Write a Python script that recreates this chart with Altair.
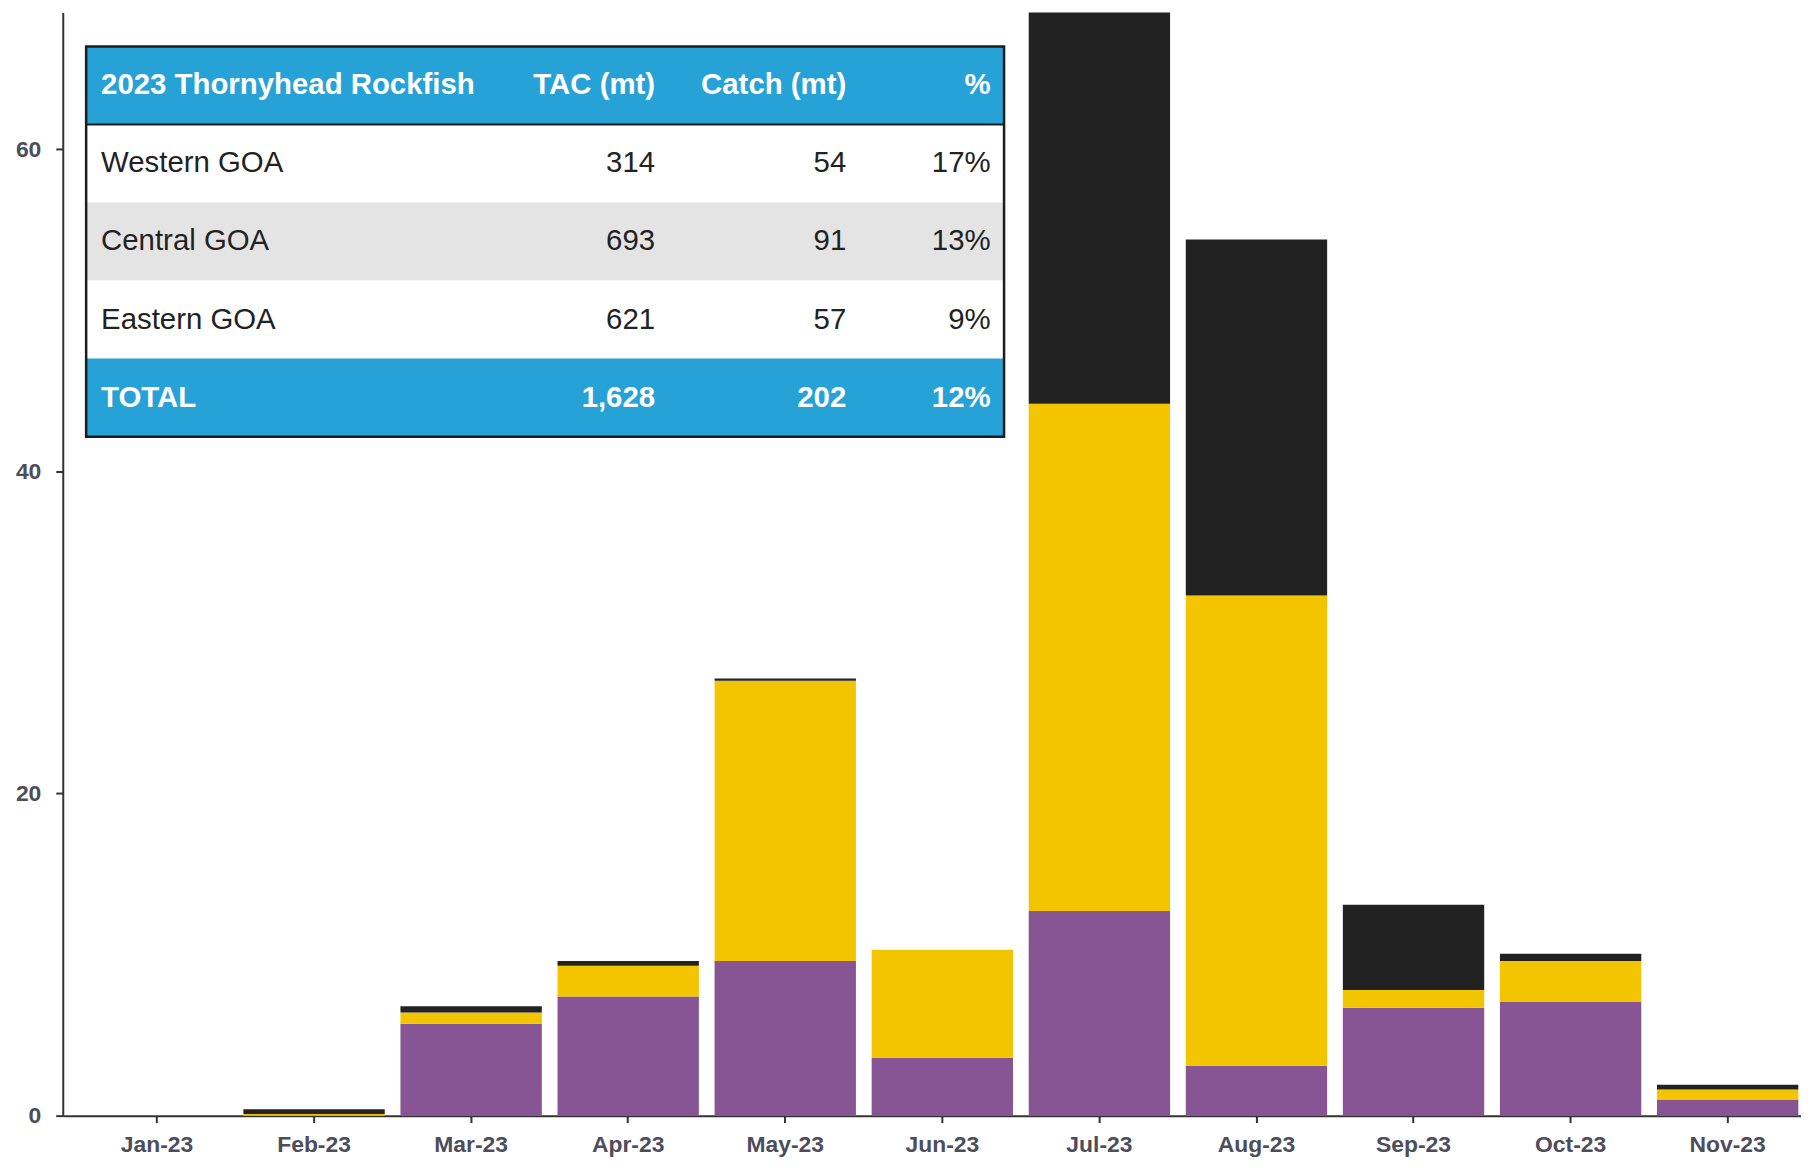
import altair as alt
import pandas as pd

# ---------------- data ----------------
months = ["Jan-23", "Feb-23", "Mar-23", "Apr-23", "May-23", "Jun-23",
          "Jul-23", "Aug-23", "Sep-23", "Oct-23", "Nov-23"]
eastern = [0, 0, 5.7, 7.4, 9.6, 3.6, 12.7, 3.1, 6.7, 7.05, 1.0]
central = [0, 0.1, 0.7, 1.9, 17.4, 6.7, 31.5, 29.2, 1.1, 2.55, 0.62]
western = [0, 0.3, 0.4, 0.3, 0.15, 0, 24.3, 22.1, 5.3, 0.45, 0.3]

series_names = ["Eastern GOA", "Central GOA", "Western GOA"]
series_colors = ["#875593", "#F2C500", "#222222"]

table_header = ["2023 Thornyhead Rockfish", "TAC (mt)", "Catch (mt)", "%"]
table_regions = ["Western GOA", "Central GOA", "Eastern GOA"]
table_tac = ["314", "693", "621"]
table_catch = ["54", "91", "57"]
table_pct = ["17%", "13%", "9%"]
table_total = ["TOTAL", "1,628", "202", "12%"]

# ---------------- tables ----------------
rows = []
for m, e, c, w in zip(months, eastern, central, western):
    rows.append({"month": m, "series": "Eastern GOA", "order": 0, "value": e})
    rows.append({"month": m, "series": "Central GOA", "order": 1, "value": c})
    rows.append({"month": m, "series": "Western GOA", "order": 2, "value": w})
bars_df = pd.DataFrame(rows)

trows = [dict(zip(["c0", "c1", "c2", "c3"], table_header), kind="head", fill="#27A2D7")]
for i, (r, t, ca, p) in enumerate(zip(table_regions, table_tac, table_catch, table_pct)):
    trows.append({"c0": r, "c1": t, "c2": ca, "c3": p, "kind": "body",
                  "fill": "#E4E4E4" if i == 1 else "#FFFFFF"})
trows.append(dict(zip(["c0", "c1", "c2", "c3"], table_total), kind="total", fill="#27A2D7"))
table_df = pd.DataFrame(trows)
table_df["i0"] = range(len(table_df))
table_df["i1"] = table_df["i0"] + 1
table_df["mid"] = table_df["i0"] + 0.5

FONT = "Liberation Sans"

# ---------------- bars ----------------
bars = alt.Chart(bars_df).mark_bar().encode(
    x=alt.X("month:N", sort=months, title=None,
            scale=alt.Scale(range=[0, 1767], paddingInner=0.1, paddingOuter=0.15),
            axis=alt.Axis(labelAngle=0, tickSize=7, labelPadding=11,
                          labelFontSize=23, labelFontWeight="bold",
                          labelColor="#4d4d5c", labelFont=FONT,
                          domainColor="#333333", domainWidth=2,
                          tickColor="#333333", tickWidth=2, grid=False)),
    y=alt.Y("value:Q", stack="zero", title=None,
            scale=alt.Scale(domain=[0, 68.5], nice=False, zero=True),
            axis=alt.Axis(values=[0, 20, 40, 60], tickSize=7, labelPadding=15,
                          labelFontSize=23, labelFontWeight="bold",
                          labelColor="#4d4d5c", labelFont=FONT,
                          domainColor="#333333", domainWidth=2,
                          tickColor="#333333", tickWidth=2, grid=False)),
    color=alt.Color("series:N", scale=alt.Scale(domain=series_names, range=series_colors),
                    legend=None),
    order=alt.Order("order:Q"),
)

# ---------------- table inset ----------------
tscale = alt.Scale(domain=[0, 5], range=[34, 426], nice=False, zero=False)
TX0, TX1 = 23.5, 945.5

bg = alt.Chart(table_df).mark_rect(strokeWidth=0).encode(
    x=alt.value(TX0), x2=alt.value(TX1),
    y=alt.Y("i0:Q", scale=tscale, axis=None),
    y2="i1:Q",
    fill=alt.Fill("fill:N", scale=None),
)

outline_df = pd.DataFrame({"i0": [0], "i1": [len(table_df)]})
outline = alt.Chart(outline_df).mark_rect(fillOpacity=0, stroke="#1c1c1c", strokeWidth=2.5).encode(
    x=alt.value(TX0), x2=alt.value(TX1),
    y=alt.Y("i0:Q", scale=tscale, axis=None),
    y2="i1:Q",
)

sep = alt.Chart(table_df[table_df["kind"] == "head"]).mark_rule(color="#1c1c1c", strokeWidth=2).encode(
    x=alt.value(TX0), x2=alt.value(TX1),
    y=alt.Y("i1:Q", scale=tscale, axis=None),
)

col_x = [38.5, 595, 787, 932]
col_align = ["left", "right", "right", "right"]
text_layers = []
bold_df = table_df[table_df["kind"] != "body"]
reg_df = table_df[table_df["kind"] == "body"]
for ci in range(4):
    for sub, weight, colr in [(bold_df, "bold", "#FFFFFF"), (reg_df, "normal", "#222222")]:
        text_layers.append(
            alt.Chart(sub).mark_text(align=col_align[ci], baseline="middle",
                                     font=FONT, fontSize=29.5, fontWeight=weight,
                                     color=colr).encode(
                x=alt.value(col_x[ci]),
                y=alt.Y("mid:Q", scale=tscale, axis=None),
                text=f"c{ci}:N",
            )
        )

table = alt.layer(bg, sep, outline, *text_layers)

chart = alt.layer(bars, table).resolve_scale(y="independent").properties(
    width=1746, height=1108,
    autosize=alt.AutoSizeParams(type="none"),
    padding={"left": 55, "top": 2, "right": 0, "bottom": 44},
    background="#FFFFFF",
).configure_view(stroke=None)

chart.save("out.html", embed_options={"renderer": "svg", "actions": False})
